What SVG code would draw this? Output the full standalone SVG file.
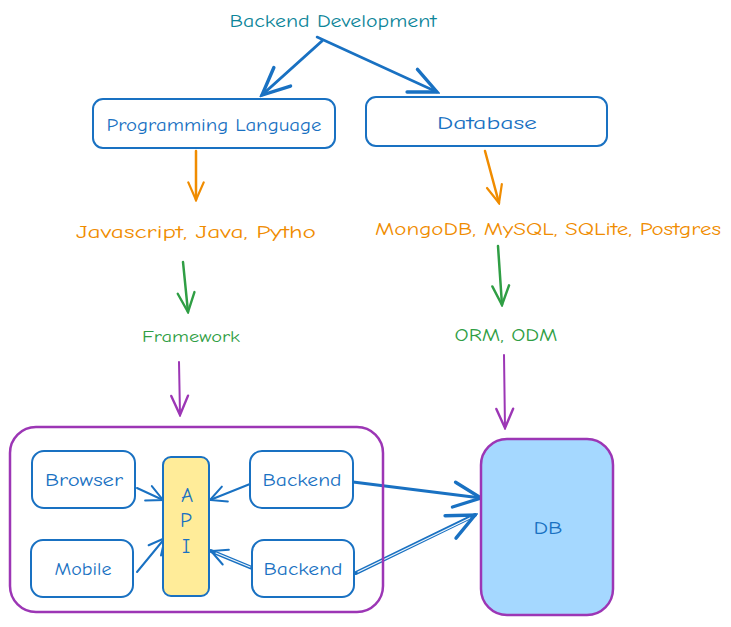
<svg xmlns="http://www.w3.org/2000/svg" width="731" height="627" viewBox="0 0 731 627">
<defs>
<style>
text{font-family:"Comic Neue","Liberation Sans","DejaVu Sans",sans-serif;text-anchor:middle;dominant-baseline:central}
.box{fill:#ffffff;stroke:#1971c2;stroke-width:2}
.lbl{fill:#1971c2;font-size:17px}
.big{font-size:21px}
.c{fill:none;stroke-linecap:round;stroke-linejoin:round}
.blue{stroke:#1971c2}
.orange{stroke:#f08c00}
.green{stroke:#2f9e44}
.purple{stroke:#9c36b5}
</style>
<marker id="hb" viewBox="0 0 20 20" refX="18" refY="10" markerWidth="20" markerHeight="20" markerUnits="userSpaceOnUse" orient="auto"><path d="M2,2 L18,10 L2,18" fill="none" stroke="#1971c2" stroke-width="2" stroke-linecap="round"/></marker>
<marker id="hb3" viewBox="0 0 30 30" refX="27" refY="15" markerWidth="34" markerHeight="34" markerUnits="userSpaceOnUse" orient="auto"><path d="M3,4 L27,15 L3,26" fill="none" stroke="#1971c2" stroke-width="3" stroke-linecap="round"/></marker>
<marker id="ho" viewBox="0 0 20 20" refX="18" refY="10" markerWidth="22" markerHeight="22" markerUnits="userSpaceOnUse" orient="auto"><path d="M2,3 L18,10 L2,17" fill="none" stroke="#f08c00" stroke-width="2" stroke-linecap="round"/></marker>
<marker id="hg" viewBox="0 0 20 20" refX="18" refY="10" markerWidth="24" markerHeight="24" markerUnits="userSpaceOnUse" orient="auto"><path d="M2,3 L18,10 L2,17" fill="none" stroke="#2f9e44" stroke-width="2" stroke-linecap="round"/></marker>
<marker id="hp" viewBox="0 0 20 20" refX="18" refY="10" markerWidth="24" markerHeight="24" markerUnits="userSpaceOnUse" orient="auto"><path d="M2,3 L18,10 L2,17" fill="none" stroke="#9c36b5" stroke-width="2" stroke-linecap="round"/></marker>
</defs>

<g id="connectors">
<line class="c blue" x1="322" y1="41" x2="262" y2="95" stroke-width="3" marker-end="url(#hb3)"/>
<line class="c blue" x1="317" y1="37" x2="437" y2="92" stroke-width="2.5" marker-end="url(#hb3)"/>
<line class="c orange" x1="196" y1="151" x2="196" y2="200" stroke-width="2.5" marker-end="url(#ho)"/>
<line class="c orange" x1="485" y1="151" x2="499" y2="203" stroke-width="2.5" marker-end="url(#ho)"/>
<line class="c green" x1="183" y1="262" x2="188" y2="312" stroke-width="2.5" marker-end="url(#hg)"/>
<line class="c green" x1="498" y1="246" x2="502" y2="305" stroke-width="2.5" marker-end="url(#hg)"/>
<line class="c purple" x1="179" y1="362" x2="180" y2="415" stroke-width="2" marker-end="url(#hp)"/>
<line class="c purple" x1="504" y1="355" x2="505" y2="428" stroke-width="2" marker-end="url(#hp)"/>
<line class="c blue" x1="137" y1="488" x2="163" y2="500" stroke-width="2" marker-end="url(#hb)"/>
<line class="c blue" x1="137" y1="572" x2="165" y2="538" stroke-width="2" marker-end="url(#hb)"/>
<line class="c blue" x1="250" y1="484" x2="210" y2="500" stroke-width="2" marker-end="url(#hb)"/>
<line class="c blue" x1="252" y1="568" x2="211" y2="551" stroke-width="4"/>
<line class="c" x1="250" y1="567" x2="216" y2="553" stroke="#ffffff" stroke-width="1.2"/>
<line class="c blue" x1="252" y1="568" x2="211" y2="551" stroke-width="0.1" marker-end="url(#hb)"/>
<line class="c blue" x1="353" y1="482" x2="481" y2="498" stroke-width="3" marker-end="url(#hb3)"/>
<line class="c blue" x1="356" y1="573" x2="475" y2="515" stroke-width="4"/>
<line class="c" x1="358" y1="572" x2="470" y2="518" stroke="#ffffff" stroke-width="1.2"/>
<line class="c blue" x1="356" y1="573" x2="475" y2="515" stroke-width="0.1" marker-end="url(#hb3)"/>
</g>

<g id="title"><text x="333" y="21" font-size="18" fill="#0c8599" textLength="207" lengthAdjust="spacingAndGlyphs">Backend Development</text></g>

<g id="programming-language">
<rect class="box" x="93" y="99" width="242" height="49" rx="10"/>
<text class="lbl" x="214" y="125" textLength="215" lengthAdjust="spacingAndGlyphs">Programming Language</text>
</g>
<g id="database">
<rect class="box" x="366" y="97" width="241" height="49" rx="10"/>
<text class="lbl" x="487" y="123" textLength="100" lengthAdjust="spacingAndGlyphs">Database</text>
</g>

<g id="languages"><text x="196" y="232" font-size="17" fill="#f08c00" textLength="240" lengthAdjust="spacingAndGlyphs">Javascript, Java, Pytho</text></g>
<g id="databases"><text x="548" y="229" font-size="17" fill="#f08c00" textLength="346" lengthAdjust="spacingAndGlyphs">MongoDB, MySQL, SQLite, Postgres</text></g>
<g id="framework"><text x="191" y="337" font-size="16" fill="#2f9e44" textLength="98" lengthAdjust="spacingAndGlyphs">Framework</text></g>
<g id="orm"><text x="506" y="335" font-size="17" fill="#2f9e44" textLength="103" lengthAdjust="spacingAndGlyphs">ORM, ODM</text></g>

<g id="server-group">
<rect x="10" y="427" width="373" height="185" rx="26" fill="none" stroke="#9c36b5" stroke-width="2.5"/>
</g>
<g id="browser">
<rect class="box" x="32" y="451" width="103" height="57" rx="12"/>
<text class="lbl" x="84" y="480" textLength="78" lengthAdjust="spacingAndGlyphs">Browser</text>
</g>
<g id="mobile">
<rect class="box" x="31" y="540" width="102" height="57" rx="12"/>
<text class="lbl" x="83" y="569" textLength="57" lengthAdjust="spacingAndGlyphs">Mobile</text>
</g>
<g id="api">
<rect x="163" y="457" width="46" height="139" rx="8" fill="#ffec99" stroke="#1971c2" stroke-width="2"/>
<text class="lbl big" x="187" y="495">A</text>
<text class="lbl big" x="186" y="520">P</text>
<text class="lbl big" x="186" y="546">I</text>
</g>
<g id="backend-1">
<rect class="box" x="250" y="451" width="103" height="57" rx="12"/>
<text class="lbl" x="302" y="480" textLength="79" lengthAdjust="spacingAndGlyphs">Backend</text>
</g>
<g id="backend-2">
<rect class="box" x="252" y="540" width="102" height="57" rx="12"/>
<text class="lbl" x="303" y="569" textLength="79" lengthAdjust="spacingAndGlyphs">Backend</text>
</g>
<g id="db">
<rect x="481" y="439" width="132" height="176" rx="26" fill="#a5d8ff" stroke="#9c36b5" stroke-width="2.5"/>
<text class="lbl" x="548" y="528" textLength="29" lengthAdjust="spacingAndGlyphs">DB</text>
</g>
</svg>
